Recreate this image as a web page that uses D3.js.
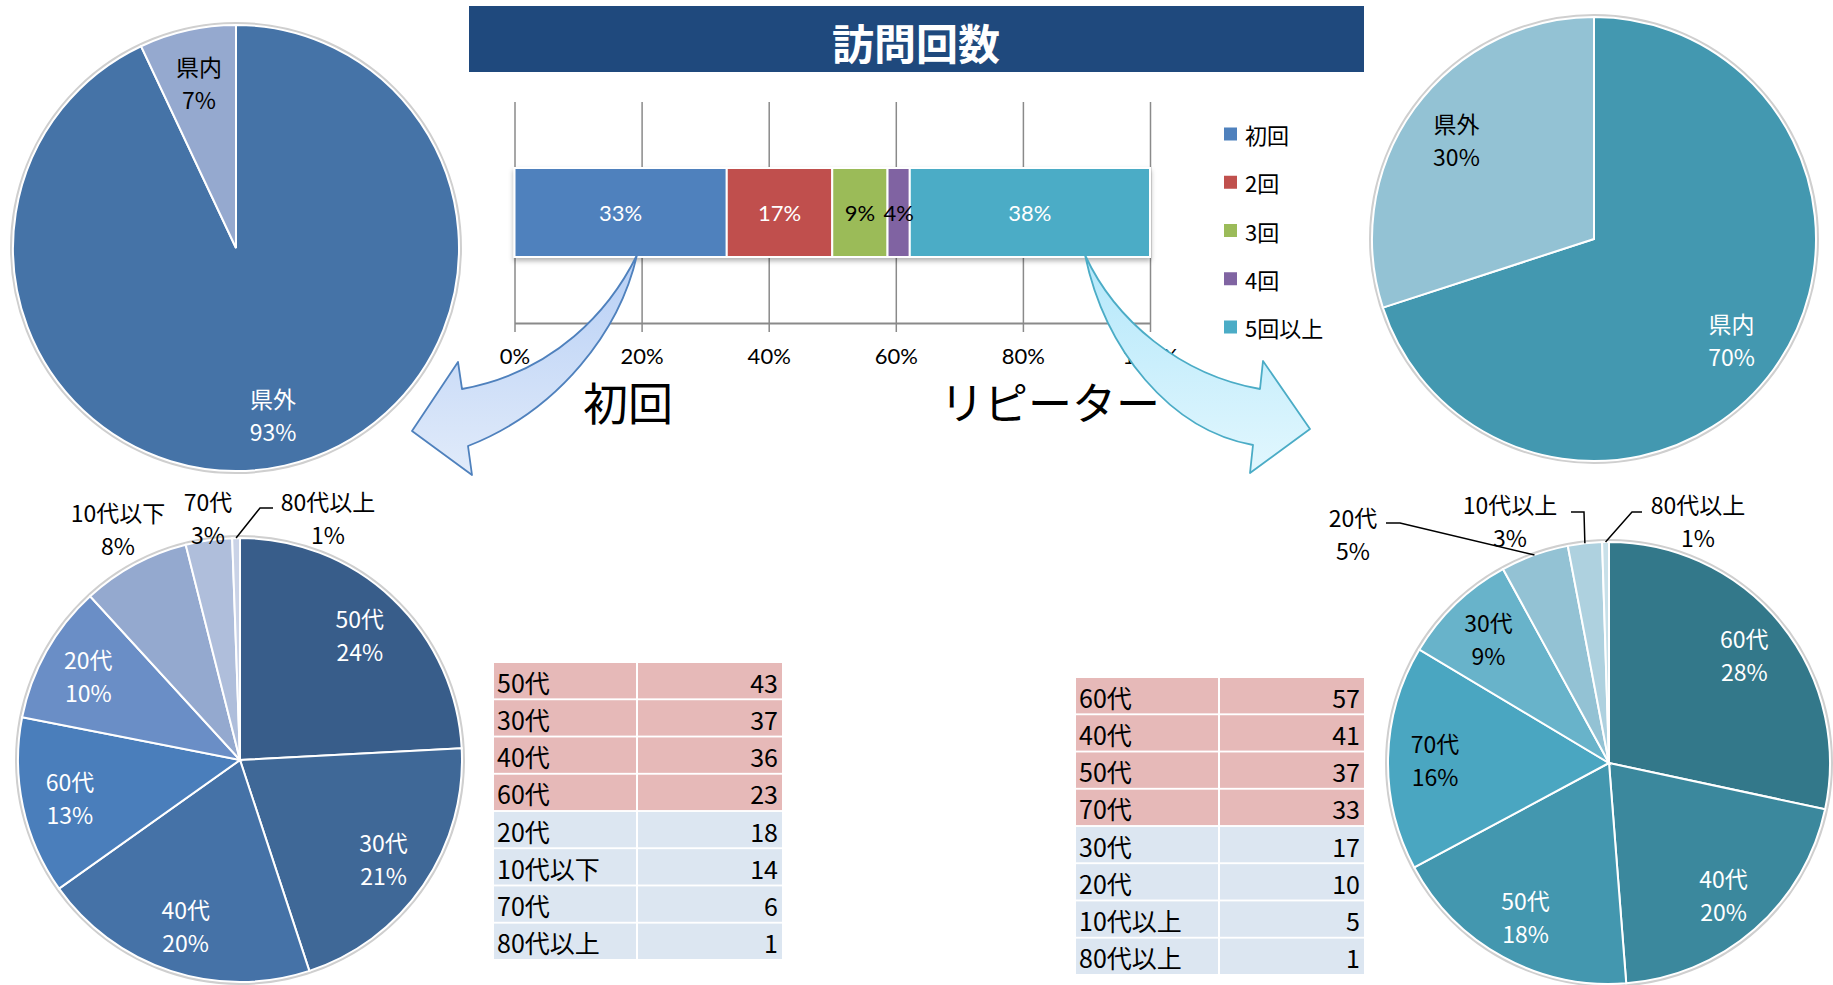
<!DOCTYPE html>
<html>
<head>
<meta charset="utf-8">
<script src="https://cdnjs.cloudflare.com/ajax/libs/d3/7.8.5/d3.min.js"></script>
<style>
body { margin: 0; background: #fff; }
svg { display: block; font-family: "Noto Sans CJK JP", "Noto Sans", sans-serif; }
.num { font-family: Lato, "Noto Sans", sans-serif; }
</style>
</head>
<body>
<svg id="chart" width="1833" height="985"></svg>
<script>
// visit count share (percent of visitors)
const visitCats = ['初回', '2回', '3回', '4回', '5回以上'];
const visitPct = [33.4, 16.6, 8.7, 3.5, 37.8];
const visitTicks = [0, 20, 40, 60, 80, 100];

// residence, first-timers vs repeaters
const firstPrefCats = ['県外', '県内'];
const firstPrefVals = [93, 7];
const repeatPrefCats = ['県内', '県外'];
const repeatPrefVals = [70, 30];

// age groups (counts, as in the tables)
const firstAgeCats = ['50代', '30代', '40代', '60代', '20代', '10代以下', '70代', '80代以上'];
const firstAgeVals = [43, 37, 36, 23, 18, 14, 6, 1];
const firstAgePct = [24, 21, 20, 13, 10, 8, 3, 1];
const repeatAgeCats = ['60代', '40代', '50代', '70代', '30代', '20代', '10代以上', '80代以上'];
const repeatAgeVals = [57, 41, 37, 33, 17, 10, 5, 1];
const repeatAgePct = [28, 20, 18, 16, 9, 5, 3, 1];

const VISIT_COLORS = ['#4f81bd', '#c0504d', '#9bbb59', '#8064a2', '#4bacc6'];
const VISIT_TEXT = ['#fff', '#fff', '#000', '#000', '#fff'];
const BLUE_AGE = ['#385d8a', '#3f6897', '#4572a7', '#4a7ebb', '#6a8ec6', '#94a9cf', '#afbedb', '#cad3e7'];
const TEAL_AGE = ['#33788a', '#3b889d', '#4397af', '#4aa6c1', '#68b3ca', '#93c2d4', '#aed1df', '#c8e0e9'];

const svg = d3.select('#chart');
const defs = svg.append('defs');

defs.append('filter').attr('id', 'shadow')
	.attr('x', '-10%').attr('y', '-10%').attr('width', '120%').attr('height', '140%')
	.append('feDropShadow')
	.attr('dx', 0).attr('dy', 3).attr('stdDeviation', 2.5)
	.attr('flood-color', '#000').attr('flood-opacity', 0.3);

function gradient(id, top, bottom) {
	const g = defs.append('linearGradient').attr('id', id)
		.attr('x1', 0).attr('x2', 0).attr('y1', 0).attr('y2', 1);
	g.append('stop').attr('offset', '0%').attr('stop-color', top);
	g.append('stop').attr('offset', '100%').attr('stop-color', bottom);
}
gradient('arrow-blue', '#b7cff5', '#e1ebfa');
gradient('arrow-cyan', '#b3e7fa', '#e2f7fe');

// title
svg.append('rect')
	.attr('x', 469).attr('y', 6).attr('width', 895).attr('height', 66)
	.attr('fill', '#1f497d');
svg.append('text')
	.attr('x', 916).attr('y', 41)
	.attr('text-anchor', 'middle').attr('dominant-baseline', 'central')
	.attr('fill', '#fff').attr('font-size', 42).attr('font-weight', 700)
	.text('訪問回数');

// ---- pies ----
function drawPie({ cx, cy, r, labelR, cats, vals, pcts, colors, textColors, outside }) {
	const g = svg.append('g').attr('transform', `translate(${cx},${cy})`);
	const pie = d3.pie().sort(null).value(d => d);
	const arcs = pie(vals);
	const arc = d3.arc().innerRadius(0).outerRadius(r);
	const labelArc = d3.arc().innerRadius(labelR).outerRadius(labelR);
	const edgeArc = d3.arc().innerRadius(r).outerRadius(r);

	g.append('circle').attr('r', r + 1.5)
		.attr('fill', 'none').attr('stroke', '#cfcfcf').attr('stroke-width', 3);

	g.selectAll('path.slice').data(arcs).join('path')
		.attr('class', 'slice')
		.attr('d', arc)
		.attr('fill', (d, i) => colors[i])
		.attr('stroke', '#fff').attr('stroke-width', 2);

	arcs.forEach((d, i) => {
		const out = outside && outside[i];
		let x;
		let y;
		if (out) {
			x = out.x - cx;
			y = out.y - cy;
			if (out.leader) {
				const pts = out.leader.map(p => [p[0] - cx, p[1] - cy]);
				pts.push(edgeArc.centroid(d));
				g.append('path')
					.attr('d', d3.line()(pts))
					.attr('fill', 'none').attr('stroke', '#000').attr('stroke-width', 1.5);
			}
		} else {
			[x, y] = labelArc.centroid(d);
		}
		const t = g.append('text')
			.attr('text-anchor', 'middle')
			.attr('fill', out ? '#000' : textColors[i])
			.attr('font-size', 23);
		t.append('tspan').attr('x', x).attr('y', y - 16)
			.attr('dominant-baseline', 'central').text(cats[i]);
		t.append('tspan').attr('x', x).attr('y', y + 17)
			.attr('dominant-baseline', 'central').text(pcts[i] + '%');
	});
}

drawPie({
	cx: 236, cy: 248, r: 223, labelR: 170,
	cats: firstPrefCats, vals: firstPrefVals, pcts: firstPrefVals,
	colors: ['#4573a7', '#95a9cf'], textColors: ['#fff', '#000']
});

drawPie({
	cx: 1594, cy: 239, r: 222, labelR: 170,
	cats: repeatPrefCats, vals: repeatPrefVals, pcts: repeatPrefVals,
	colors: ['#4398b0', '#93c2d4'], textColors: ['#fff', '#000']
});

drawPie({
	cx: 240, cy: 760, r: 222, labelR: 174,
	cats: firstAgeCats, vals: firstAgeVals, pcts: firstAgePct,
	colors: BLUE_AGE, textColors: ['#fff', '#fff', '#fff', '#fff', '#fff', '#000', '#000', '#000'],
	outside: [null, null, null, null, null,
		{ x: 118, y: 528 },
		{ x: 208, y: 517 },
		{ x: 328, y: 517, leader: [[273, 508], [260, 508]] }]
});

drawPie({
	cx: 1609, cy: 763, r: 221, labelR: 174,
	cats: repeatAgeCats, vals: repeatAgeVals, pcts: repeatAgePct,
	colors: TEAL_AGE, textColors: ['#fff', '#fff', '#fff', '#000', '#000', '#000', '#000', '#000'],
	outside: [null, null, null, null, null,
		{ x: 1353, y: 533, leader: [[1386, 523], [1400, 523]] },
		{ x: 1510, y: 520, leader: [[1571, 512], [1584, 512]] },
		{ x: 1698, y: 520, leader: [[1642, 512], [1632, 512]] }]
});

// ---- stacked bar ----
const barTop = 168;
const barH = 89;
const axisY = 323;
const gridTop = 102;
const x = d3.scaleLinear().domain([0, 100]).range([514.5, 1150]);

const bar = svg.append('g');
bar.append('g')
	.attr('transform', `translate(0,${axisY})`)
	.call(d3.axisBottom(x).tickValues(visitTicks).tickSize(-(axisY - gridTop)).tickFormat(''))
	.call(g => g.select('.domain').remove())
	.call(g => g.selectAll('line').attr('stroke', '#8a8a8a').attr('stroke-width', 1.5));

bar.append('g')
	.attr('transform', `translate(0,${axisY})`)
	.call(d3.axisBottom(x).tickValues(visitTicks).tickSize(9).tickSizeOuter(0)
		.tickPadding(16).tickFormat(d => d + '%'))
	.call(g => g.select('.domain').attr('stroke', '#8a8a8a').attr('stroke-width', 2))
	.call(g => g.selectAll('line').attr('stroke', '#8a8a8a').attr('stroke-width', 1.5))
	.call(g => g.selectAll('text').attr('class', 'num').attr('font-size', 22).attr('fill', '#000'));

const starts = [0, ...d3.cumsum(visitPct)].slice(0, -1);
const segs = bar.append('g').attr('filter', 'url(#shadow)');
segs.selectAll('rect').data(visitPct).join('rect')
	.attr('x', (d, i) => x(starts[i]))
	.attr('width', d => x(d) - x(0))
	.attr('y', barTop).attr('height', barH)
	.attr('fill', (d, i) => VISIT_COLORS[i])
	.attr('stroke', '#fff').attr('stroke-width', 2);

bar.selectAll('text.val').data(visitPct).join('text')
	.attr('class', 'val num')
	.attr('x', (d, i) => x(starts[i] + d / 2))
	.attr('y', barTop + barH / 2)
	.attr('text-anchor', 'middle').attr('dominant-baseline', 'central')
	.attr('font-size', 22)
	.attr('fill', (d, i) => VISIT_TEXT[i])
	.text(d => Math.round(d) + '%');

// legend
const ly = d3.scalePoint().domain(visitCats).range([134, 327]);
const legend = svg.append('g');
legend.selectAll('rect').data(visitCats).join('rect')
	.attr('x', 1224).attr('y', d => ly(d) - 6.5)
	.attr('width', 13).attr('height', 13)
	.attr('fill', (d, i) => VISIT_COLORS[i]);
legend.selectAll('text').data(visitCats).join('text')
	.attr('x', 1245).attr('y', d => ly(d))
	.attr('dominant-baseline', 'central')
	.attr('font-size', 22)
	.text(d => d);

// ---- curved arrows ----
svg.append('path')
	.attr('d', 'M637,255 C610,310 555,372 462,389 L458,362 L412,431 L472,475 L468,446 C560,410 620,330 637,255 Z')
	.attr('fill', 'url(#arrow-blue)').attr('stroke', '#4f81bd').attr('stroke-width', 1.8)
	.attr('stroke-linejoin', 'round');
svg.append('path')
	.attr('d', 'M1085,255 C1105,350 1170,430 1253,445 L1250,473 L1310,429 L1263,361 L1260,389 C1180,375 1115,320 1085,255 Z')
	.attr('fill', 'url(#arrow-cyan)').attr('stroke', '#4bacc6').attr('stroke-width', 1.8)
	.attr('stroke-linejoin', 'round');

svg.append('text')
	.attr('x', 628).attr('y', 401)
	.attr('text-anchor', 'middle').attr('dominant-baseline', 'central')
	.attr('font-size', 45).text('初回');
svg.append('text')
	.attr('x', 1050).attr('y', 401)
	.attr('text-anchor', 'middle').attr('dominant-baseline', 'central')
	.attr('font-size', 44).text('リピーター');

// ---- tables ----
function drawTable({ x0, y0, cats, vals }) {
	const colW = 144;
	const y = d3.scaleBand().domain(cats).range([y0, y0 + 37 * cats.length]).paddingInner(0.05);
	const g = svg.append('g');
	const rows = g.selectAll('g').data(cats).join('g')
		.attr('transform', d => `translate(0,${y(d)})`);
	rows.append('rect').attr('x', x0).attr('width', colW - 2).attr('height', y.bandwidth())
		.attr('fill', (d, i) => (i < 4 ? '#e6b9b8' : '#dce6f1'));
	rows.append('rect').attr('x', x0 + colW).attr('width', colW).attr('height', y.bandwidth())
		.attr('fill', (d, i) => (i < 4 ? '#e6b9b8' : '#dce6f1'));
	rows.append('text')
		.attr('x', x0 + 3).attr('y', y.bandwidth() / 2 + 1)
		.attr('dominant-baseline', 'central').attr('font-size', 25)
		.text(d => d);
	rows.append('text')
		.attr('x', x0 + 2 * colW - 4).attr('y', y.bandwidth() / 2 + 1)
		.attr('text-anchor', 'end')
		.attr('dominant-baseline', 'central').attr('font-size', 25)
		.text((d, i) => vals[i]);
}

drawTable({ x0: 494, y0: 663, cats: firstAgeCats, vals: firstAgeVals });
drawTable({ x0: 1076, y0: 678, cats: repeatAgeCats, vals: repeatAgeVals });
</script>
</body>
</html>
